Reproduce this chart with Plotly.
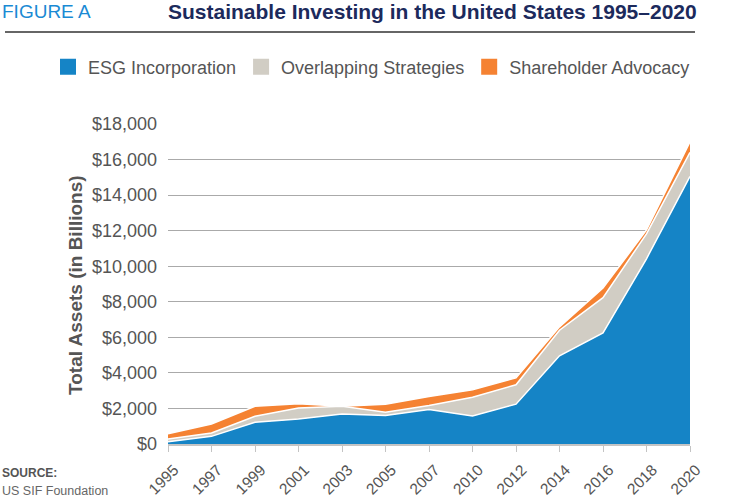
import plotly.graph_objects as go

# values (billions USD), stacked bottom to top
years = ["1995", "1997", "1999", "2001", "2003", "2005", "2007",
         "2010", "2012", "2014", "2016", "2018", "2020"]
esg = [130, 430, 1220, 1410, 1690, 1600, 1940, 1580, 2240, 4960, 6250, 10420, 15050]
overlap = [150, 190, 340, 620, 430, 190, 220, 1050, 1090, 1440, 1980, 1400, 1350]
advocacy = [300, 510, 560, 240, 0, 450, 510, 420, 390, 190, 540, 220, 600]

names = ["ESG Incorporation", "Overlapping Strategies", "Shareholder Advocacy"]
colors = ["#1584c6", "#d1cdc4", "#f58232"]

FONT = "Liberation Sans, Arial, sans-serif"
GREY = "#555555"

# plot area in pixels of the 750x500 page
L, R, T, B = 168, 690, 124, 444


def px(x):
    return (x - L) / (R - L)


def py(y):
    return (B - y) / (B - T)


fig = go.Figure()
for name, vals, col in zip(names, [esg, overlap, advocacy], colors):
    fig.add_trace(go.Scatter(
        x=years, y=vals, name=name, stackgroup="one", mode="lines",
        line=dict(color="white", width=1.5), fillcolor=col, showlegend=False,
    ))
# square legend keys
for name, col in zip(names, colors):
    fig.add_trace(go.Scatter(
        x=[None], y=[None], name=name, mode="markers",
        marker=dict(symbol="square", size=17, color=col), hoverinfo="skip",
    ))

fig.update_layout(
    width=750, height=500,
    margin=dict(l=L, r=750 - R, t=T, b=500 - B, autoexpand=False),
    paper_bgcolor="white", plot_bgcolor="white",
    font=dict(family=FONT, color=GREY, size=16),
    showlegend=True,
    legend=dict(orientation="h", x=px(48), xanchor="left", y=py(67), yanchor="middle",
                font=dict(size=18, color=GREY), bgcolor="rgba(0,0,0,0)",
                itemwidth=30, traceorder="normal"),
    xaxis=dict(type="category", range=[0, 12], showgrid=False, tickangle=-45,
               ticks="outside", ticklen=6, tickcolor="#c4c4c4", tickfont=dict(size=15.5, color=GREY),
               ticklabelstandoff=3, ticklabelshift=6,
               showline=True, linecolor="#c4c4c4", linewidth=1.5),
    yaxis=dict(range=[0, 18000], dtick=2000, tickprefix="$", tickformat=",",
               showgrid=True, gridcolor="#aaaaaa", gridwidth=1.3, zeroline=False,
               tickfont=dict(size=18, color=GREY), ticklabelstandoff=10),
)

# y axis title
fig.add_annotation(text="<b>Total Assets (in Billions)</b>", xref="paper", yref="paper",
                   x=px(75), y=py(285), textangle=-90, showarrow=False,
                   xanchor="center", yanchor="middle",
                   font=dict(size=19, color=GREY, family=FONT))

# header
fig.add_annotation(text="FIGURE A", xref="paper", yref="paper", x=px(0), y=py(12),
                   xanchor="left", yanchor="middle", showarrow=False,
                   font=dict(size=19, color="#1a8ad4", family=FONT))
fig.add_annotation(text="<b>Sustainable Investing in the United States 1995–2020</b>",
                   xref="paper", yref="paper", x=px(166), y=py(12),
                   xanchor="left", yanchor="middle", showarrow=False,
                   font=dict(size=21, color="#1c2a5c", family=FONT))
fig.add_shape(type="line", xref="paper", yref="paper", x0=px(5), x1=px(695),
              y0=py(32), y1=py(32), line=dict(color="#666666", width=2))

# source
fig.add_annotation(text="<b>SOURCE:</b>", xref="paper", yref="paper", x=px(0), y=py(473),
                   xanchor="left", yanchor="middle", showarrow=False,
                   font=dict(size=12, color=GREY, family=FONT))
fig.add_annotation(text="US SIF Foundation", xref="paper", yref="paper", x=px(0), y=py(491),
                   xanchor="left", yanchor="middle", showarrow=False,
                   font=dict(size=12.5, color="#666666", family=FONT))

# drop the page's default body margin so the figure sits at the window corner
fig.write_html("out.html", config={"displayModeBar": False},
               post_script="document.body.style.margin='0';")
